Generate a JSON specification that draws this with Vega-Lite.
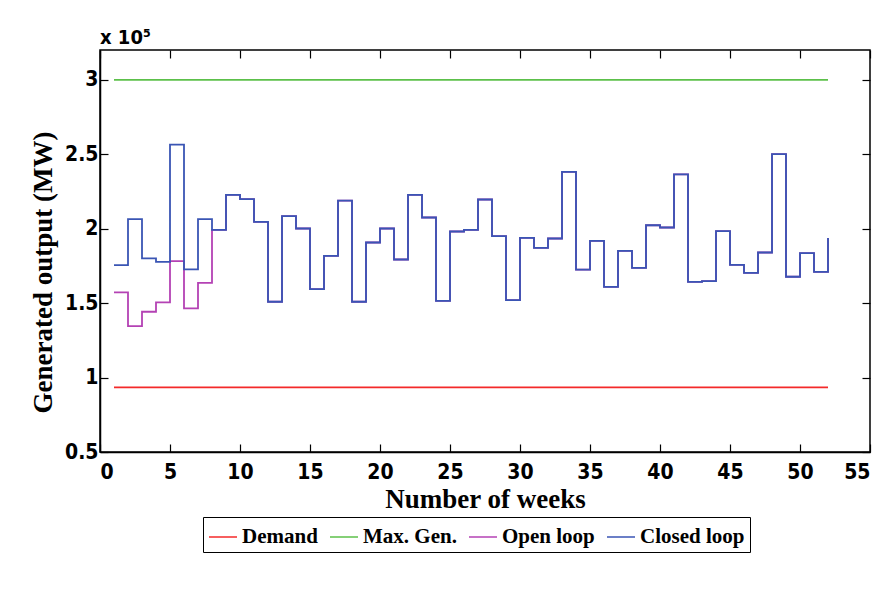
{
  "$schema": "https://vega.github.io/schema/vega-lite/v6.json",
  "width": 770,
  "height": 402,
  "autosize": {"type": "none"},
  "padding": {"left": 100, "top": 50, "right": 15, "bottom": 145},
  "background": "white",
  "title": {"text": "x 10⁵", "anchor": "start", "frame": "group", "font": "DejaVu Sans Condensed", "fontWeight": "bold", "fontSize": 20, "color": "black", "offset": 1},
  "data": {"values": [
    {"week": 1, "series": "Demand", "value": 93400},
    {"week": 52, "series": "Demand", "value": 93400},
    {"week": 1, "series": "Max. Gen.", "value": 300000},
    {"week": 52, "series": "Max. Gen.", "value": 300000},
    {"week": 1, "series": "Open loop", "value": 157200},
    {"week": 2, "series": "Open loop", "value": 134600},
    {"week": 3, "series": "Open loop", "value": 144200},
    {"week": 4, "series": "Open loop", "value": 150500},
    {"week": 5, "series": "Open loop", "value": 178200},
    {"week": 6, "series": "Open loop", "value": 146400},
    {"week": 7, "series": "Open loop", "value": 163600},
    {"week": 8, "series": "Open loop", "value": 199200},
    {"week": 9, "series": "Open loop", "value": 222700},
    {"week": 10, "series": "Open loop", "value": 219800},
    {"week": 11, "series": "Open loop", "value": 204600},
    {"week": 12, "series": "Open loop", "value": 150900},
    {"week": 13, "series": "Open loop", "value": 208400},
    {"week": 14, "series": "Open loop", "value": 200100},
    {"week": 15, "series": "Open loop", "value": 159400},
    {"week": 16, "series": "Open loop", "value": 181700},
    {"week": 17, "series": "Open loop", "value": 218900},
    {"week": 18, "series": "Open loop", "value": 150900},
    {"week": 19, "series": "Open loop", "value": 190700},
    {"week": 20, "series": "Open loop", "value": 200100},
    {"week": 21, "series": "Open loop", "value": 179300},
    {"week": 22, "series": "Open loop", "value": 222700},
    {"week": 23, "series": "Open loop", "value": 207500},
    {"week": 24, "series": "Open loop", "value": 151500},
    {"week": 25, "series": "Open loop", "value": 198100},
    {"week": 26, "series": "Open loop", "value": 199200},
    {"week": 27, "series": "Open loop", "value": 219600},
    {"week": 28, "series": "Open loop", "value": 195000},
    {"week": 29, "series": "Open loop", "value": 152000},
    {"week": 30, "series": "Open loop", "value": 193800},
    {"week": 31, "series": "Open loop", "value": 187100},
    {"week": 32, "series": "Open loop", "value": 193400},
    {"week": 33, "series": "Open loop", "value": 238100},
    {"week": 34, "series": "Open loop", "value": 172500},
    {"week": 35, "series": "Open loop", "value": 191800},
    {"week": 36, "series": "Open loop", "value": 160900},
    {"week": 37, "series": "Open loop", "value": 185100},
    {"week": 38, "series": "Open loop", "value": 173700},
    {"week": 39, "series": "Open loop", "value": 202300},
    {"week": 40, "series": "Open loop", "value": 200800},
    {"week": 41, "series": "Open loop", "value": 236400},
    {"week": 42, "series": "Open loop", "value": 164300},
    {"week": 43, "series": "Open loop", "value": 164800},
    {"week": 44, "series": "Open loop", "value": 198300},
    {"week": 45, "series": "Open loop", "value": 175700},
    {"week": 46, "series": "Open loop", "value": 170300},
    {"week": 47, "series": "Open loop", "value": 184000},
    {"week": 48, "series": "Open loop", "value": 250000},
    {"week": 49, "series": "Open loop", "value": 167700},
    {"week": 50, "series": "Open loop", "value": 183600},
    {"week": 51, "series": "Open loop", "value": 171000},
    {"week": 52, "series": "Open loop", "value": 193800},
    {"week": 1, "series": "Closed loop", "value": 175500},
    {"week": 2, "series": "Closed loop", "value": 206400},
    {"week": 3, "series": "Closed loop", "value": 180000},
    {"week": 4, "series": "Closed loop", "value": 177700},
    {"week": 5, "series": "Closed loop", "value": 256500},
    {"week": 6, "series": "Closed loop", "value": 172600},
    {"week": 7, "series": "Closed loop", "value": 206400},
    {"week": 8, "series": "Closed loop", "value": 199200},
    {"week": 9, "series": "Closed loop", "value": 222700},
    {"week": 10, "series": "Closed loop", "value": 219800},
    {"week": 11, "series": "Closed loop", "value": 204600},
    {"week": 12, "series": "Closed loop", "value": 150900},
    {"week": 13, "series": "Closed loop", "value": 208400},
    {"week": 14, "series": "Closed loop", "value": 200100},
    {"week": 15, "series": "Closed loop", "value": 159400},
    {"week": 16, "series": "Closed loop", "value": 181700},
    {"week": 17, "series": "Closed loop", "value": 218900},
    {"week": 18, "series": "Closed loop", "value": 150900},
    {"week": 19, "series": "Closed loop", "value": 190700},
    {"week": 20, "series": "Closed loop", "value": 200100},
    {"week": 21, "series": "Closed loop", "value": 179300},
    {"week": 22, "series": "Closed loop", "value": 222700},
    {"week": 23, "series": "Closed loop", "value": 207500},
    {"week": 24, "series": "Closed loop", "value": 151500},
    {"week": 25, "series": "Closed loop", "value": 198100},
    {"week": 26, "series": "Closed loop", "value": 199200},
    {"week": 27, "series": "Closed loop", "value": 219600},
    {"week": 28, "series": "Closed loop", "value": 195000},
    {"week": 29, "series": "Closed loop", "value": 152000},
    {"week": 30, "series": "Closed loop", "value": 193800},
    {"week": 31, "series": "Closed loop", "value": 187100},
    {"week": 32, "series": "Closed loop", "value": 193400},
    {"week": 33, "series": "Closed loop", "value": 238100},
    {"week": 34, "series": "Closed loop", "value": 172500},
    {"week": 35, "series": "Closed loop", "value": 191800},
    {"week": 36, "series": "Closed loop", "value": 160900},
    {"week": 37, "series": "Closed loop", "value": 185100},
    {"week": 38, "series": "Closed loop", "value": 173700},
    {"week": 39, "series": "Closed loop", "value": 202300},
    {"week": 40, "series": "Closed loop", "value": 200800},
    {"week": 41, "series": "Closed loop", "value": 236400},
    {"week": 42, "series": "Closed loop", "value": 164300},
    {"week": 43, "series": "Closed loop", "value": 164800},
    {"week": 44, "series": "Closed loop", "value": 198300},
    {"week": 45, "series": "Closed loop", "value": 175700},
    {"week": 46, "series": "Closed loop", "value": 170300},
    {"week": 47, "series": "Closed loop", "value": 184000},
    {"week": 48, "series": "Closed loop", "value": 250000},
    {"week": 49, "series": "Closed loop", "value": 167700},
    {"week": 50, "series": "Closed loop", "value": 183600},
    {"week": 51, "series": "Closed loop", "value": 171000},
    {"week": 52, "series": "Closed loop", "value": 193800}
  ]},
  "layer": [
    {
      "mark": {"type": "line", "interpolate": "step-after", "strokeWidth": 1.8, "clip": true},
      "encoding": {
        "x": {
          "field": "week", "type": "quantitative",
          "scale": {"domain": [0, 55], "nice": false, "zero": false},
          "axis": {"values": [0, 5, 10, 15, 20, 25, 30, 35, 40, 45, 50, 55], "title": "Number of weeks", "grid": false, "tickSize": -8, "labelPadding": 17, "titlePadding": 4}
        },
        "y": {
          "field": "value", "type": "quantitative",
          "scale": {"domain": [50000, 320000], "nice": false, "zero": false},
          "axis": {"values": [50000, 100000, 150000, 200000, 250000, 300000], "labelExpr": "datum.value / 100000", "title": "Generated output (MW)", "grid": false, "tickSize": -8, "labelPadding": 10, "titleX": -43, "titleY": 222}
        },
        "color": {
          "field": "series", "type": "nominal",
          "scale": {"domain": ["Demand", "Max. Gen.", "Open loop", "Closed loop"], "range": ["#f42a2a", "#5cc04a", "#b442b4", "#3a55b4"]},
          "legend": {"orient": "none", "legendX": 103, "legendY": 467, "direction": "horizontal", "title": null}
        },
        "order": {"field": "week"}
      }
    },
    {
      "mark": {"type": "line", "opacity": 0},
      "encoding": {
        "x": {"field": "week", "type": "quantitative", "axis": {"orient": "top", "values": [0, 5, 10, 15, 20, 25, 30, 35, 40, 45, 50, 55], "labels": false, "title": null, "domain": false, "grid": false, "tickSize": -8}},
        "y": {"field": "value", "type": "quantitative", "axis": {"orient": "right", "values": [50000, 100000, 150000, 200000, 250000, 300000], "labels": false, "title": null, "domain": false, "grid": false, "tickSize": -8}},
        "detail": {"field": "series", "type": "nominal"}
      }
    }
  ],
  "resolve": {"axis": {"x": "independent", "y": "independent"}},
  "config": {
    "view": {"stroke": "black", "strokeWidth": 1.5},
    "axis": {
      "domainColor": "black", "domainWidth": 1.5, "tickColor": "black", "tickWidth": 1.2,
      "labelFont": "DejaVu Sans Condensed", "labelFontWeight": "bold", "labelFontSize": 21, "labelColor": "black",
      "titleFont": "Liberation Serif", "titleFontWeight": "bold", "titleFontSize": 27, "titleColor": "black"
    },
    "legend": {
      "strokeColor": "black", "fillColor": "white", "padding": 5, "symbolType": "stroke", "symbolStrokeWidth": 1.5,
      "symbolSize": 784, "labelFont": "Liberation Serif", "labelFontWeight": "bold", "labelFontSize": 21, "labelColor": "black",
      "columnPadding": 9, "labelOffset": 4
    }
  }
}
